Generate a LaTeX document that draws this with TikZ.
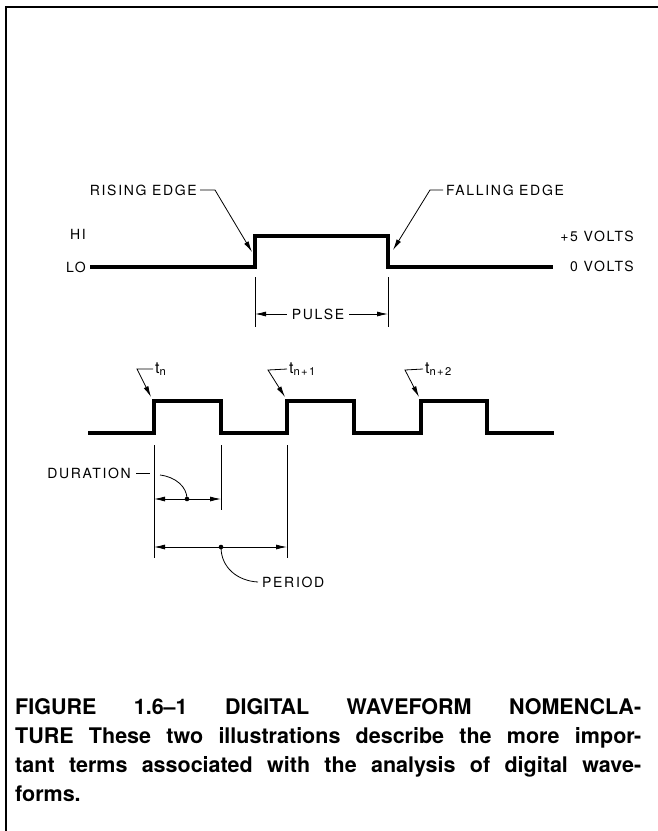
\documentclass[tikz,border=0pt]{standalone}
\usepackage{fontspec}
\usepackage{tikz}
\usetikzlibrary{arrows.meta}
\newfontfamily\lblfont[LetterSpace=12]{TeX Gyre Heros}
\newfontfamily\capfont{TeX Gyre Heros}

\begin{document}
\begin{tikzpicture}[x=1pt,y=-1pt,
        wave/.style={line width=3.4pt, line join=miter},
        frame/.style={line width=2.8pt},
        thin/.style={line width=0.8pt},
        tip/.style={thin, -{Latex[length=11pt,width=5pt]}},
        lbl/.style={inner sep=0pt, font=\lblfont\fontsize{14}{16}\selectfont},
        tlbl/.style={lbl, font=\lblfont\fontsize{16}{18}\selectfont}]
        \useasboundingbox (0,0) rectangle (658,831);
        \draw[frame] (658,7) -- (6,7) -- (6,831);

        % single pulse
        \coordinate (a) at (90,267);
        \coordinate (b) at (255,267);
        \coordinate (c) at (255,236);
        \coordinate (d) at (388,236);
        \coordinate (e) at (388,267);
        \coordinate (f) at (553,267);
        \draw[wave] (a) -- (b) -- (c) -- (d) -- (e) -- (f);

        \node[lbl, anchor=east] (hi) at (86,234) {HI};
        \node[lbl, anchor=east] (lo) at (86,267) {LO};
        \node[lbl, anchor=east] (v5) at (634,236) {+5 VOLTS};
        \node[lbl, anchor=east] (v0) at (634,266) {0 VOLTS};

        \node[lbl, anchor=east] (rise) at (197,190) {RISING EDGE};
        \coordinate (rk) at (215,190);
        \draw[tip] ([xshift=3pt]rise.east) -- (rk) -- (252,252);
        \node[lbl, anchor=west] (fall) at (446,190) {FALLING EDGE};
        \coordinate (fk) at (430,190);
        \draw[tip] ([xshift=-3pt]fall.west) -- (fk) -- (393,250);

        \draw[thin] (255,277) -- (255,327);
        \draw[thin] (388,277) -- (388,327);
        \node[lbl] (pulse) at (318,314) {PULSE};
        \draw[tip] ([xshift=-5pt]pulse.west) -- (255,314);
        \draw[tip] ([xshift=5pt]pulse.east) -- (388,314);

        % pulse train
        \coordinate (p0) at (88,433);
        \coordinate (p1) at (154,401);
        \coordinate (p2) at (221,401);
        \coordinate (p3) at (287,401);
        \coordinate (p4) at (354,401);
        \coordinate (p5) at (421,401);
        \coordinate (p6) at (487,401);
        \coordinate (p7) at (554,433);
        \draw[wave] (p0) -| (p1) -- (p2) |- (p3 |- p0) -- (p3) -- (p4) |- (p5 |- p0)
            -- (p5) -- (p6) |- (p7);

        \node[tlbl, anchor=west] (t0) at (155,369) {t\textsubscript{n}};
        \draw[tip] ([xshift=-2pt]t0.west) -- (137,369) -- (151,397);
        \node[tlbl, anchor=west] (t1) at (289,369) {t\textsubscript{n+1}};
        \draw[tip] ([xshift=-2pt]t1.west) -- (268,370) -- (285,397);
        \node[tlbl, anchor=west] (t2) at (425,369) {t\textsubscript{n+2}};
        \draw[tip] ([xshift=-2pt]t2.west) -- (405,370) -- (419,397);

        \draw[thin] (154,445) -- (154,558);
        \draw[thin] (221,445) -- (221,510);
        \draw[thin] (287,445) -- (287,558);

        \fill (187,499) circle (2.3pt) coordinate (dm);
        \draw[tip] (dm) -- (154,499);
        \draw[tip] (dm) -- (221,499);
        \fill (221,547) circle (2.3pt) coordinate (pm);
        \draw[tip] (pm) -- (154,547);
        \draw[tip] (pm) -- (287,547);

        \node[lbl, anchor=east] (dur) at (131,473) {DURATION};
        \draw[thin] ([xshift=5pt]dur.east) -- (150,473);
        \draw[thin] (160,475) .. controls (176,477) and (187,487) .. (dm);
        \node[lbl, anchor=west] (per) at (262,582) {PERIOD};
        \draw[thin] (pm) .. controls (221,568) and (238,581) .. ([xshift=-4pt]per.west);

        % caption
        \node[anchor=north west, inner sep=0pt, text width=626pt, align=justify,
            font=\capfont\bfseries\fontsize{21.5}{29}\selectfont] (cap) at (15,698)
            {FIGURE 1.6–1 DIGITAL WAVEFORM NOMENCLA-\linebreak TURE These two illustrations
            describe the more impor-\linebreak tant terms associated with the analysis of
            digital wave-\linebreak forms.};
\end{tikzpicture}
\end{document}
